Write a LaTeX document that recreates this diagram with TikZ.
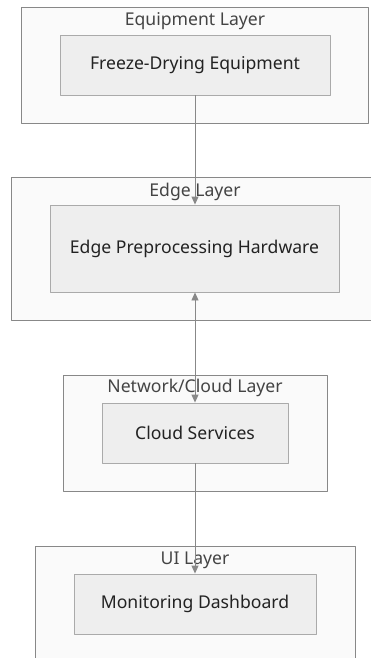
\documentclass[tikz,border=0pt]{standalone}
\usepackage{fontspec}
\setmainfont{Noto Sans}
\usetikzlibrary{arrows.meta}
\definecolor{layerfill}{HTML}{FAFAFA}
\definecolor{layerline}{HTML}{888888}
\definecolor{boxfill}{HTML}{EEEEEE}
\definecolor{boxline}{HTML}{AAAAAA}
\definecolor{txt}{HTML}{222222}
\definecolor{ttltxt}{HTML}{444444}
\begin{document}
\begin{tikzpicture}[x=1pt,y=-1pt,line join=round,>={Triangle[length=8pt,width=7pt]},
	layer/.style={draw=layerline,fill=layerfill,line width=0.9pt,inner sep=0pt},
	comp/.style={draw=boxline,fill=boxfill,line width=0.9pt,inner sep=0pt,text=txt,font=\fontsize{17.6}{20}\selectfont},
	ttl/.style={text=ttltxt,font=\fontsize{17.6}{20}\selectfont,inner sep=0pt},
	link/.style={->,draw=layerline,fill=layerline,line width=0.9pt}]
	\useasboundingbox (0,0) rectangle (370,658);
	% layers
	\node[layer,minimum width=347,minimum height=116] (equip) at (194.5,65) {};
	\node[layer,minimum width=361,minimum height=143] (edge) at (191.5,248.5) {};
	\node[layer,minimum width=264,minimum height=116] (net) at (195,433) {};
	\node[layer,minimum width=320,minimum height=124] (ui) at (195,608) {};
	\node[ttl] (equipttl) at (195,21) {Equipment Layer};
	\node[ttl] (edgettl) at (195,192) {Edge Layer};
	\node[ttl] (netttl) at (195,388) {Network/Cloud Layer};
	\node[ttl] (uittl) at (195,560) {UI Layer};
	% components
	\node[comp,minimum width=270,minimum height=60] (freeze) at (195,65) {Freeze-Drying Equipment};
	\node[comp,minimum width=289,minimum height=87] (hw) at (194.5,248.5) {Edge Preprocessing Hardware};
	\node[comp,minimum width=186,minimum height=60] (cloud) at (195,433) {Cloud Services};
	\node[comp,minimum width=242,minimum height=60] (dash) at (195,604) {Monitoring Dashboard};
	% links
	\draw[link] (freeze.south) -- (freeze.south |- hw.north);
	\draw[link,<->] (cloud.north) -- (cloud.north |- hw.south);
	\draw[link] (cloud.south) -- (dash.north);
\end{tikzpicture}
\end{document}
